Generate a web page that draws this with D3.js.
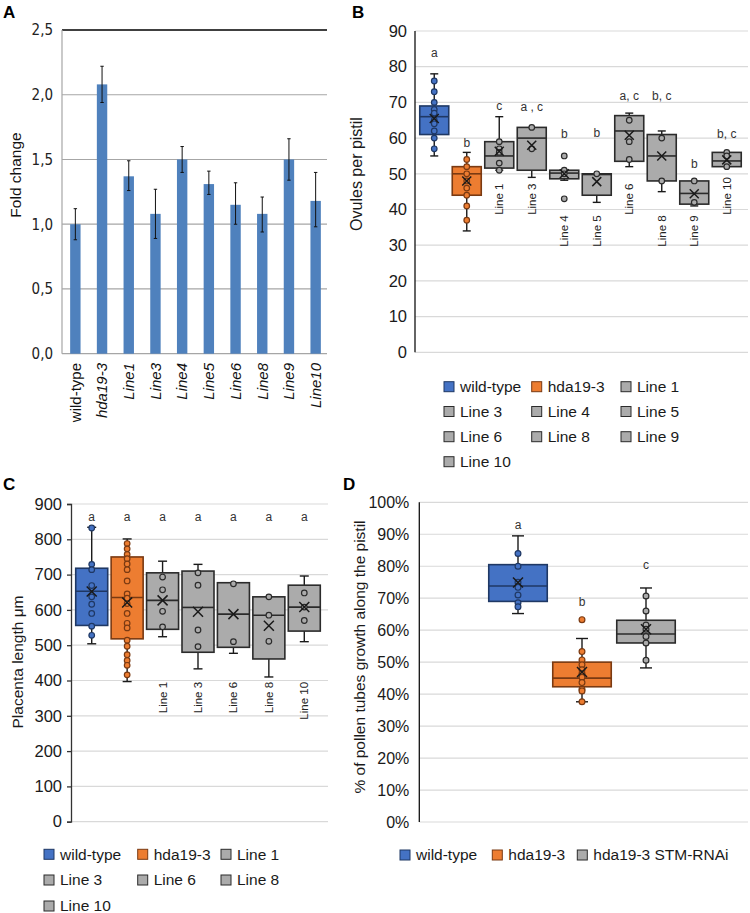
<!DOCTYPE html>
<html><head><meta charset="utf-8">
<script src="https://cdn.jsdelivr.net/npm/d3@7"></script>
<style>
body{margin:0;background:#fff;}
svg{display:block;font-family:'Liberation Sans',Arial,sans-serif;}
text.let{fill:#333;}
</style></head><body>
<svg id="fig" width="750" height="913"></svg>
<script>
// ================= DATA =================
// Panel A – fold change bar chart
const aCategories = ["wild-type","hda19-3","Line1","Line3","Line4","Line5","Line6","Line8","Line9","Line10"];
const aValues  = [1.00, 2.08, 1.37, 1.08, 1.50, 1.31, 1.15, 1.08, 1.50, 1.18];
const aErrLow  = [0.88, 1.94, 1.26, 0.89, 1.40, 1.23, 1.00, 0.94, 1.34, 0.98];
const aErrHigh = [1.12, 2.22, 1.49, 1.27, 1.60, 1.41, 1.32, 1.21, 1.66, 1.40];
const aTicks = [0, 0.5, 1.0, 1.5, 2.0, 2.5];

// Panel B – ovules per pistil
const bCategories = ["wild-type","hda19-3","Line 1","Line 3","Line 4","Line 5","Line 6","Line 8","Line 9","Line 10"];
const bMin    = [55, 34, 51, 49, 48.2, 42, 52, 45, 41, 52];
const bQ1     = [61, 44, 51.6, 51, 48.6, 44, 53.5, 48, 41.5, 52];
const bMedian = [66, 50, 55, 60, 50.2, 49.8, 62, 55, 44.5, 53.6];
const bQ3     = [69, 52, 59, 63, 51, 50, 66.3, 61, 48, 56];
const bMax    = [78, 56, 66, 63, 51, 50, 67, 62, 48, 56];
const bMean   = [65.5, 48, 56.3, 58, 50, 47.8, 60.8, 55, 44.4, 53.9];
const bPoints = [[76,73,70,68,67,65,64,62,60,57],[54,52,50,48,46,44,41,37],[59,57,56,53,51],[63,57],[55,51,50,43],[50],[65,59,54],[60,48],[48,42],[56,55,52]];
const bLetters = ["a","b","c","a , c","b","b","a, c","b, c","b","b, c"];
const bLetterAt = [84, 58.7, 69, 68.8, 61.3, 61.5, 71.8, 71.8, 52.7, 61.3];
const bNameAt = [null, null, 38.5, 38.5, 29.6, 29.6, 38.5, 29.6, 29.6, 38.5];
const bTicks = [0,10,20,30,40,50,60,70,80,90];

// Panel C – placenta length
const cCategories = ["wild-type","hda19-3","Line 1","Line 3","Line 6","Line 8","Line 10"];
const cMin    = [504, 397, 524, 433, 477, 410, 510];
const cQ1     = [556, 518, 545, 480, 494, 461, 540];
const cMedian = [653, 635, 627, 607, 588, 585, 608];
const cQ3     = [718, 750, 705, 710, 677, 637, 670];
const cMax    = [834, 801, 738, 729, 677, 637, 696];
const cMean   = [652, 621, 627, 595, 588, 555, 608];
const cPoints = [[832,729,714,669,637,616,590,554,528],
                 [788,773,757,745,730,714,682,645,633,618,590,562,549,514,497,473,457,443,416],
                 [693,657,596,552],[705,670,543,496],[674,510],[637,585,511],[648,608,570]];
const cLetters = ["a","a","a","a","a","a","a"];
const cLetterAt = 864;
const cTicks = [0,100,200,300,400,500,600,700,800,900];

// Panel D – pollen tube growth
const dCategories = ["wild-type","hda19-3","hda19-3 STM-RNAi"];
const dMin    = [0.652, 0.376, 0.482];
const dQ1     = [0.690, 0.423, 0.560];
const dMedian = [0.738, 0.450, 0.588];
const dQ3     = [0.805, 0.500, 0.631];
const dMax    = [0.895, 0.574, 0.732];
const dMean   = [0.749, 0.469, 0.603];
const dPoints = [[0.84,0.80,0.75,0.734,0.71,0.686,0.673],
                 [0.633,0.533,0.507,0.492,0.476,0.464,0.453,0.436,0.415,0.41,0.376],
                 [0.707,0.66,0.616,0.603,0.58,0.56,0.506]];
const dLetters = ["a","b","c"];
const dLetterAt = [0.931, 0.688, 0.805];
const dTicks = [0,0.1,0.2,0.3,0.4,0.5,0.6,0.7,0.8,0.9,1.0];

// ================= STYLE =================
const BLUE = "#4472C4", ORANGE = "#ED7D31", GREY = "#ABABAB";
const fillOf = (i) => i === 0 ? BLUE : (i === 1 ? ORANGE : GREY);
const strokeOf = (i) => i === 0 ? "#1f3864" : (i === 1 ? "#7a3a12" : "#2b2b2b");
const TXT = "#1a1a1a";

const svg = d3.select("#fig");

// panel letters
[["A",3,18],["B",352,18],["C",3,490],["D",343,490]].forEach(([t,x,y]) =>
  svg.append("text").attr("x",x).attr("y",y).attr("font-size",17).attr("font-weight","bold")
     .attr("fill","#000").text(t));

// ================= PANEL A =================
(function(){
  const g = svg.append("g");
  const x = d3.scaleBand().domain(aCategories).range([62, 329]).paddingInner(0.6).paddingOuter(0.3);
  const y = d3.scaleLinear().domain([0, 2.5]).range([353.7, 30]);
  const left = 62, right = 327;
  g.selectAll("line.grid").data(aTicks).join("line")
    .attr("x1", left).attr("x2", right).attr("y1", d=>y(d)).attr("y2", d=>y(d))
    .attr("stroke", d => d === 2.5 ? "#000" : "#a6a6a6").attr("stroke-width", d => d===2.5?1.3:1.2);
  g.append("line").attr("x1",left).attr("x2",left).attr("y1",y(0)).attr("y2",y(2.5))
    .attr("stroke","#a6a6a6").attr("stroke-width",1.2);
  const ax = g.append("g").attr("transform",`translate(${left},0)`)
    .call(d3.axisLeft(y).tickValues(aTicks).tickSize(0).tickPadding(9)
      .tickFormat(d => d3.format(".1f")(d).replace(".", ",")));
  ax.select(".domain").remove();
  ax.selectAll("text").attr("font-family","'Liberation Sans Narrow','DejaVu Sans Condensed',sans-serif")
    .attr("font-size",15).attr("fill","#222");
  const bw = 10.4;
  const cx = d => x(d) + x.bandwidth()/2;
  g.selectAll("rect.bar").data(aCategories).join("rect")
    .attr("x", d => cx(d) - bw/2).attr("width", bw)
    .attr("y", (d,i) => y(aValues[i])).attr("height", (d,i) => y(0) - y(aValues[i]))
    .attr("fill", "#4F81BD");
  const eb = g.selectAll("g.err").data(aCategories).join("g");
  eb.append("line").attr("x1",cx).attr("x2",cx).attr("y1",(d,i)=>y(aErrLow[i])).attr("y2",(d,i)=>y(aErrHigh[i]))
    .attr("stroke","#111").attr("stroke-width",1);
  eb.append("line").attr("x1",d=>cx(d)-1.7).attr("x2",d=>cx(d)+1.7).attr("y1",(d,i)=>y(aErrHigh[i])).attr("y2",(d,i)=>y(aErrHigh[i]))
    .attr("stroke","#111").attr("stroke-width",1);
  eb.append("line").attr("x1",d=>cx(d)-1.7).attr("x2",d=>cx(d)+1.7).attr("y1",(d,i)=>y(aErrLow[i])).attr("y2",(d,i)=>y(aErrLow[i]))
    .attr("stroke","#111").attr("stroke-width",1);
  g.selectAll("text.xl").data(aCategories).join("text")
    .attr("transform", d => `translate(${cx(d)},363) rotate(-90)`)
    .attr("dy","0.35em").attr("text-anchor","end").attr("font-size",15)
    .attr("font-style", d => d === "wild-type" ? "normal" : "italic")
    .attr("fill","#111").text(d => d);
  g.append("text").attr("transform","translate(16,175) rotate(-90)").attr("dy","0.35em")
    .attr("text-anchor","middle").attr("font-size",15.5).attr("fill","#111").text("Fold change");
})();

// ================= generic box plot =================
function drawBoxes(g, o) {
  o.cats.forEach((c, i) => {
    const cx = o.cx(c, i);
    const w = o.bw;
    const cap = o.cap;
    const sc = strokeOf(o.colorIdx(i));
    const fc = fillOf(o.colorIdx(i));
    const wg = g.append("g");
    [[o.max[i], o.q3[i]], [o.min[i], o.q1[i]]].forEach(([a, b]) => {
      if (Math.abs(a - b) < 1e-9) return;
      wg.append("line").attr("x1",cx).attr("x2",cx).attr("y1",o.y(a)).attr("y2",o.y(b))
        .attr("stroke","#1a1a1a").attr("stroke-width",1.4);
      wg.append("line").attr("x1",cx-cap/2).attr("x2",cx+cap/2).attr("y1",o.y(a)).attr("y2",o.y(a))
        .attr("stroke","#1a1a1a").attr("stroke-width",1.4);
    });
    wg.append("rect").attr("x",cx-w/2).attr("width",w)
      .attr("y",o.y(o.q3[i])).attr("height",Math.max(1,o.y(o.q1[i])-o.y(o.q3[i])))
      .attr("fill",fc).attr("stroke",sc).attr("stroke-width",1.6);
    wg.append("line").attr("x1",cx-w/2).attr("x2",cx+w/2).attr("y1",o.y(o.med[i])).attr("y2",o.y(o.med[i]))
      .attr("stroke",sc).attr("stroke-width",1.6);
    wg.selectAll("circle").data(o.points[i]).join("circle")
      .attr("cx",cx).attr("cy",d=>o.y(d)).attr("r",o.r)
      .attr("fill",fc).attr("stroke",sc).attr("stroke-width",1.2);
    const my = o.y(o.mean[i]), s = o.xs;
    wg.append("path").attr("d",`M${cx-s},${my-s}L${cx+s},${my+s}M${cx-s},${my+s}L${cx+s},${my-s}`)
      .attr("stroke","#1a1a1a").attr("stroke-width",1.5).attr("fill","none");
  });
}

function drawLegend(g, items, colX, rowY, colorIdx, fs) {
  items.forEach((t, i) => {
    const cx = colX[i % colX.length], cy = rowY[Math.floor(i / colX.length)];
    g.append("rect").attr("x",cx).attr("y",cy-5).attr("width",10).attr("height",10)
      .attr("fill",fillOf(colorIdx(i))).attr("stroke",strokeOf(colorIdx(i))).attr("stroke-width",1);
    g.append("text").attr("x",cx+16).attr("y",cy).attr("dy","0.35em").attr("font-size",fs)
      .attr("fill",TXT).text(t);
  });
}

// ================= PANEL B =================
(function(){
  const g = svg.append("g");
  const left = 415, right = 748;
  const x = d3.scaleBand().domain(bCategories).range([418, 743]);
  const y = d3.scaleLinear().domain([0, 90]).range([352.3, 31]);
  g.selectAll("line.grid").data(bTicks).join("line")
    .attr("x1",left).attr("x2",right).attr("y1",d=>y(d)).attr("y2",d=>y(d))
    .attr("stroke","#d9d9d9").attr("stroke-width",1.2);
  g.append("line").attr("x1",left).attr("x2",left).attr("y1",y(0)).attr("y2",y(90))
    .attr("stroke","#111").attr("stroke-width",1.3);
  const ax = g.append("g").attr("transform",`translate(${left},0)`)
    .call(d3.axisLeft(y).tickValues(bTicks).tickSize(0).tickPadding(8));
  ax.select(".domain").remove();
  ax.selectAll("text").attr("font-size",16.5).attr("fill",TXT).attr("font-family","'Liberation Sans',Arial,sans-serif");
  const cx = (c) => x(c) + x.bandwidth()/2;
  drawBoxes(g, {cats:bCategories, cx, y, bw:29, cap:8, r:2.8, xs:4.5,
    min:bMin, q1:bQ1, med:bMedian, q3:bQ3, max:bMax, mean:bMean, points:bPoints,
    colorIdx:i=>i});
  g.selectAll("text.let").data(bCategories).join("text").attr("class","let")
    .attr("x",cx).attr("y",(d,i)=>y(bLetterAt[i])).attr("dy","0.35em")
    .attr("text-anchor","middle").attr("font-size",12).text((d,i)=>bLetters[i]);
  g.selectAll("text.nm").data(bCategories.filter((d,i)=>bNameAt[i]!==null)).join("text").attr("class","nm")
    .attr("transform", d => `translate(${cx(d)},${y(bNameAt[bCategories.indexOf(d)])}) rotate(-90)`)
    .attr("dy","0.35em").attr("text-anchor","start").attr("font-size",11.5).attr("fill","#222").text(d=>d);
  g.append("text").attr("transform","translate(356,174) rotate(-90)").attr("dy","0.35em")
    .attr("text-anchor","middle").attr("font-size",16).attr("fill",TXT).text("Ovules per pistil");
  drawLegend(g, bCategories, [444, 531.7, 621], [386.7, 411.5, 436.7, 461.7], i=>i, 15.5);
})();

// ================= PANEL C =================
(function(){
  const g = svg.append("g");
  const left = 71, right = 328;
  const x = d3.scaleBand().domain(cCategories).range([74, 322]);
  const y = d3.scaleLinear().domain([0, 900]).range([821.7, 504]);
  g.selectAll("line.grid").data(cTicks).join("line")
    .attr("x1",left).attr("x2",right).attr("y1",d=>y(d)).attr("y2",d=>y(d))
    .attr("stroke","#d9d9d9").attr("stroke-width",1.2);
  const ax = g.append("g").attr("transform",`translate(${left},0)`)
    .call(d3.axisLeft(y).tickValues(cTicks).tickSize(4).tickPadding(5));
  ax.select(".domain").attr("stroke","#333").attr("stroke-width",1.3);
  ax.selectAll(".tick line").attr("stroke","#333").attr("stroke-width",1.3);
  ax.selectAll("text").attr("font-size",16.5).attr("fill",TXT).attr("font-family","'Liberation Sans',Arial,sans-serif");
  const cx = (c) => x(c) + x.bandwidth()/2;
  drawBoxes(g, {cats:cCategories, cx, y, bw:32, cap:9, r:2.8, xs:5,
    min:cMin, q1:cQ1, med:cMedian, q3:cQ3, max:cMax, mean:cMean, points:cPoints,
    colorIdx:i=>i});
  g.selectAll("text.let").data(cCategories).join("text").attr("class","let")
    .attr("x",cx).attr("y",y(cLetterAt)).attr("dy","0.35em")
    .attr("text-anchor","middle").attr("font-size",12).text((d,i)=>cLetters[i]);
  g.selectAll("text.nm").data(cCategories.slice(2)).join("text").attr("class","nm")
    .attr("transform", d => `translate(${cx(d)},${y(396)}) rotate(-90)`)
    .attr("dy","0.35em").attr("text-anchor","end").attr("font-size",11.5).attr("fill","#222").text(d=>d);
  g.append("text").attr("transform","translate(18,662) rotate(-90)").attr("dy","0.35em")
    .attr("text-anchor","middle").attr("font-size",15.5).attr("fill",TXT).text("Placenta length μm");
  drawLegend(g, cCategories, [44, 137.7, 221], [854.3, 880, 906], i=>i, 15.5);
})();

// ================= PANEL D =================
(function(){
  const g = svg.append("g");
  const left = 419.3, right = 748;
  const x = d3.scaleBand().domain(dCategories).range([486, 678]);
  const y = d3.scaleLinear().domain([0, 1]).range([822, 502.3]);
  g.selectAll("line.grid").data(dTicks).join("line")
    .attr("x1",left).attr("x2",right).attr("y1",d=>y(d)).attr("y2",d=>y(d))
    .attr("stroke","#d9d9d9").attr("stroke-width",1.2);
  g.append("line").attr("x1",left).attr("x2",left).attr("y1",y(0)).attr("y2",y(1))
    .attr("stroke","#111").attr("stroke-width",1.3);
  const ax = g.append("g").attr("transform",`translate(${left},0)`)
    .call(d3.axisLeft(y).tickValues(dTicks).tickSize(0).tickPadding(10).tickFormat(d3.format(".0%")));
  ax.select(".domain").remove();
  ax.selectAll("text").attr("font-size",16).attr("fill",TXT).attr("font-family","'Liberation Sans',Arial,sans-serif");
  const cx = (c) => x(c) + x.bandwidth()/2;
  drawBoxes(g, {cats:dCategories, cx, y, bw:58.5, cap:12, r:2.9, xs:5,
    min:dMin, q1:dQ1, med:dMedian, q3:dQ3, max:dMax, mean:dMean, points:dPoints,
    colorIdx:i=>i});
  g.selectAll("text.let").data(dCategories).join("text").attr("class","let")
    .attr("x",cx).attr("y",(d,i)=>y(dLetterAt[i])).attr("dy","0.35em")
    .attr("text-anchor","middle").attr("font-size",12).text((d,i)=>dLetters[i]);
  g.append("text").attr("transform","translate(360,657) rotate(-90)").attr("dy","0.35em")
    .attr("text-anchor","middle").attr("font-size",15.5).attr("fill",TXT).text("% of pollen tubes growth along the pistil");
  drawLegend(g, dCategories, [400, 492.3, 577.3], [855], i=>i, 15.5);
})();
</script>
</body></html>
